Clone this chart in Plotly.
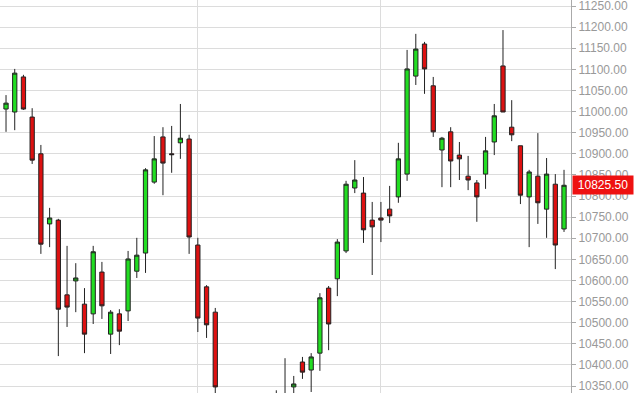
import plotly.graph_objects as go

idx = list(range(-1, 65))
opens = [11027, 11006, 10999, 11082, 10987, 10900, 10734, 10743, 10566, 10599,
         10544, 10521, 10620, 10473, 10521, 10528, 10622, 10665, 10833, 10940,
         10900, 10926, 10935, 10684, 10585, 10525, 10320, 10270, 10290, 10230,
         10260, 10280, 10310, 10320, 10348, 10407, 10388, 10428, 10582, 10604,
         10670, 10819, 10807, 10743, 10748, 10769, 10798, 10852, 11084, 11160,
         11061, 10909, 10952, 10897, 10847, 10831, 10852, 10928, 11108, 10963,
         10919, 10798, 10847, 10769, 10828, 10722]
highs = [11044, 11039, 11101, 11087, 11008, 10921, 10772, 10746, 10682, 10641,
         10582, 10682, 10644, 10530, 10532, 10670, 10701, 10866, 10942, 10963,
         10966, 11018, 10945, 10701, 10589, 10535, 10328, 10300, 10310, 10280,
         10300, 10320, 10340, 10416, 10374, 10419, 10428, 10570, 10587, 10698,
         10836, 10885, 10845, 10786, 10786, 10824, 10926, 11146, 11184, 11165,
         11082, 10940, 10963, 10928, 10895, 10838, 10940, 11018, 11193, 11027,
         10919, 10862, 10949, 10890, 10852, 10862]
lows = [10952, 10952, 10956, 11004, 10876, 10663, 10679, 10421, 10490, 10525,
        10428, 10497, 10509, 10426, 10447, 10504, 10606, 10618, 10829, 10802,
        10855, 10888, 10663, 10478, 10464, 10300, 10250, 10220, 10200, 10190,
        10230, 10240, 10280, 10270, 10320, 10367, 10336, 10386, 10435, 10563,
        10665, 10807, 10689, 10613, 10691, 10736, 10784, 10836, 11063, 11042,
        10940, 10821, 10821, 10838, 10814, 10739, 10817, 10897, 10999, 10930,
        10781, 10679, 10734, 10701, 10627, 10715]
closes = [10961, 11020, 11091, 11006, 10885, 10686, 10748, 10532, 10537, 10606,
          10473, 10668, 10540, 10525, 10480, 10651, 10660, 10862, 10888, 10878,
          10898, 10937, 10703, 10511, 10495, 10348, 10270, 10290, 10230, 10260,
          10280, 10300, 10325, 10330, 10355, 10383, 10419, 10559, 10497, 10691,
          10828, 10838, 10720, 10727, 10743, 10753, 10888, 11101, 11148, 11101,
          10952, 10937, 10883, 10888, 10838, 10798, 10907, 10990, 10999, 10945,
          10802, 10857, 10784, 10852, 10684, 10825.5]

y_ticks = list(range(10350, 11251, 50))
grid_x = [22, 43]
last_price = closes[-1]

fig = go.Figure(go.Candlestick(
    x=idx, open=opens, high=highs, low=lows, close=closes,
    increasing=dict(fillcolor="#22dd22", line=dict(color="#222222", width=1)),
    decreasing=dict(fillcolor="#dd1111", line=dict(color="#222222", width=1)),
    whiskerwidth=0, showlegend=False, hoverinfo="skip",
))

fig.update_layout(
    width=634, height=393,
    margin=dict(l=0, r=63, t=0, b=0),
    paper_bgcolor="white", plot_bgcolor="white",
    font=dict(family="Liberation Sans, Arial, sans-serif", size=12, color="#999999"),
    xaxis=dict(
        range=[-0.69, 64.8], rangeslider=dict(visible=False),
        tickvals=grid_x, showticklabels=False, ticks="",
        showgrid=True, gridcolor="#dcdcdc", gridwidth=1.3, zeroline=False,
        showline=False,
    ),
    yaxis=dict(
        side="right", range=[10333.6, 11264.2],
        tickvals=y_ticks, tickformat=".2f",
        ticklabeloverflow="allow",
        showgrid=True, gridcolor="#dcdcdc", gridwidth=1.3, zeroline=False,
        showline=True, linecolor="#aaaaaa", linewidth=1,
        ticks="outside", ticklen=4, tickcolor="#aaaaaa",
        tickfont=dict(size=12, color="#999999"),
    ),
    annotations=[dict(
        x=1, xref="paper", y=last_price, yref="y",
        xanchor="left", yanchor="middle", xshift=1,
        text=f"{last_price:.2f}", showarrow=False,
        bgcolor="#ee1111", font=dict(color="white", size=12),
        borderpad=2, width=56,
    )],
)

fig.write_html("out.html")
